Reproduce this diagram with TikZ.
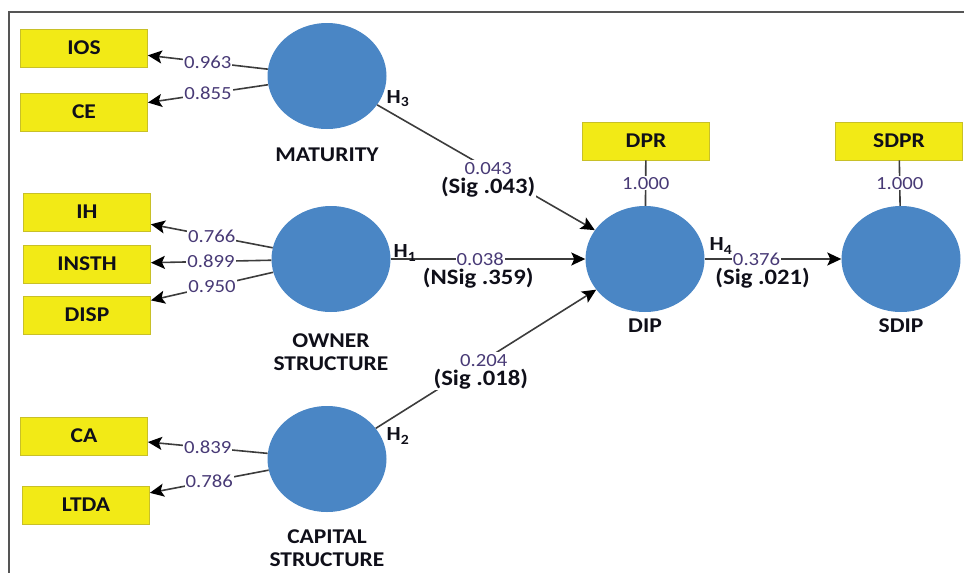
\documentclass[tikz,border=0pt]{standalone}
\usepackage{fontspec}
\setmainfont{Carlito}[FakeStretch=1.12]
\usetikzlibrary{shapes.geometric,arrows.meta,positioning}
\definecolor{boxyellow}{RGB}{242,234,22}
\definecolor{boxedge}{RGB}{200,192,40}
\definecolor{latblue}{RGB}{74,134,197}
\definecolor{numcol}{RGB}{72,58,118}
\definecolor{linegray}{RGB}{60,60,60}
\definecolor{framegray}{RGB}{85,85,85}
\definecolor{txtdark}{RGB}{15,15,25}
\tikzset{
  ind/.style={draw=boxedge, line width=0.8pt, fill=boxyellow, minimum width=127pt, minimum height=38pt, inner sep=0pt, font=\bfseries\fontsize{21}{24}\selectfont, text=txtdark},
  lat/.style={ellipse, fill=latblue, minimum width=119pt, minimum height=106pt, inner sep=0pt},
  latname/.style={font=\bfseries\fontsize{21}{23.5}\selectfont, align=center, text=txtdark},
  load/.style={fill=white, inner sep=1pt, text=numcol, font=\fontsize{18.5}{20}\selectfont},
  pathload/.style={load, inner xsep=1pt, inner ysep=2.5pt},
  sigl/.style={fill=white, inner sep=1pt, text=txtdark, font=\bfseries\fontsize{22}{23}\selectfont},
  hyp/.style={font=\bfseries\fontsize{20}{22}\selectfont, text=txtdark},
  conn/.style={draw=linegray, line width=1.6pt, -{Stealth[length=14pt,width=13pt,inset=3pt,color=black]}},
  plain/.style={draw=linegray, line width=1.6pt}
}
\begin{document}
\begin{tikzpicture}[x=1pt,y=-1pt]
\useasboundingbox (0,0) rectangle (964,573);
\draw[framegray, line width=1.2pt] (964,12) -- (9,12) -- (9,573);

% indicator boxes
\node[ind] (ios) at (84,48) {IOS};
\node[ind] (ce) at (84,112) {CE};
\node[ind] (ih) at (87,212) {IH};
\node[ind] (insth) at (87,264) {INSTH};
\node[ind] (disp) at (87,315) {DISP};
\node[ind] (ca) at (84,436) {CA};
\node[ind] (ltda) at (86,505) {LTDA};
\node[ind] (dpr) at (646,141) {DPR};
\node[ind] (sdpr) at (899,141) {SDPR};

% latent variables
\node[lat] (mat) at (327,76) {};
\node[lat] (own) at (331,259) {};
\node[lat] (cap) at (327,459) {};
\node[lat] (dip) at (645,259) {};
\node[lat] (sdip) at (901,259) {};

\node[latname] (matn) at (327,155) {MATURITY};
\node[latname] (ownn) at (331,352) {OWNER\\STRUCTURE};
\node[latname] (capn) at (327,548) {CAPITAL\\STRUCTURE};
\node[latname] (dipn) at (645,326) {DIP};
\node[latname] (sdipn) at (901,326) {SDIP};

% outer loadings
\draw[conn] (mat) -- node[load] {0.963} (ios);
\draw[conn] (mat) -- node[load] {0.855} (ce);
\draw[conn] (own) -- node[load] {0.766} (ih);
\draw[conn] (own) -- node[load] {0.899} (insth);
\draw[conn] (own) -- node[load] {0.950} (disp);
\draw[conn] (cap) -- node[load] {0.839} (ca);
\draw[conn] (cap) -- node[load] {0.786} (ltda);
\draw[plain] (dip) -- node[load] {1.000} (dpr);
\draw[plain] (sdip) -- node[load] {1.000} (sdpr);

% structural paths
\draw[conn] (mat) -- node[pathload, pos=0.51] (p3) {0.043} (dip);
\node[sigl, below=-2pt of p3] (s3) {(Sig .043)};
\draw[conn] (own) -- node[pathload, pos=0.46] (p1) {0.038} (dip);
\node[sigl, below=-2pt of p1, xshift=-2pt] (s1) {(NSig .359)};
\draw[conn] (cap) -- node[pathload, pos=0.49] (p2) {0.204} (dip);
\node[sigl, below=-2pt of p2, xshift=-3pt] (s2) {(Sig .018)};
\draw[conn] (dip) -- node[pathload, pos=0.38] (p4) {0.376} (sdip);
\node[sigl, below=-2pt of p4, xshift=6pt] (s4) {(Sig .021)};

% hypothesis labels
\node[hyp] (h3) at (398,99) {H\textsubscript{3}};
\node[hyp] (h1) at (405,253) {H\textsubscript{1}};
\node[hyp] (h2) at (398,436) {H\textsubscript{2}};
\node[hyp] (h4) at (721,246) {H\textsubscript{4}};
\end{tikzpicture}
\end{document}
